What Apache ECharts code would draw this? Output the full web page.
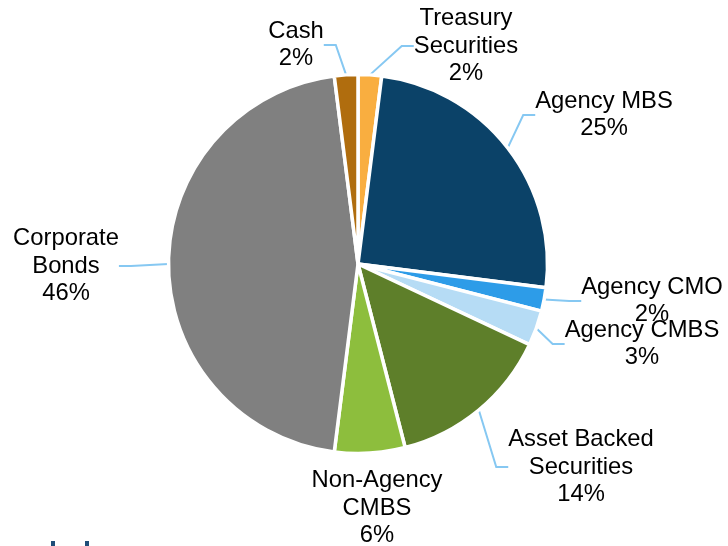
<!DOCTYPE html>
<html>
<head>
<meta charset="utf-8">
<style>
  html, body { margin: 0; padding: 0; background: #ffffff; }
  #chart { width: 728px; height: 546px; }
</style>
<script src="https://cdn.jsdelivr.net/npm/echarts@6/dist/echarts.min.js"></script>
</head>
<body>
<div id="chart"></div>
<script>
// Portfolio sector allocation (percent of holdings), clockwise from 12 o'clock
const sectors = [
  'Treasury Securities', 'Agency MBS', 'Agency CMO', 'Agency CMBS',
  'Asset Backed Securities', 'Non-Agency CMBS', 'Corporate Bonds', 'Cash'
];
const sectorLabels = [
  'Treasury\nSecurities', 'Agency MBS', 'Agency CMO', 'Agency CMBS',
  'Asset Backed\nSecurities', 'Non-Agency\nCMBS', 'Corporate\nBonds', 'Cash'
];
const weights = [2, 25, 2, 3, 14, 6, 46, 2];
const sectorColors = [
  '#F9AE40', '#0B4268', '#2D9CE8', '#B6DCF5',
  '#5E7F2A', '#8DBE3D', '#808080', '#B06D0E'
];
// Callouts whose leader line is drawn
const showLeader = [true, true, true, true, true, false, true, true];

// Where each callout's text block is centred
const calloutCenters = [
  [466, 46], [604, 115], [652, 301], [642, 344],
  [581, 467], [377, 508], [66, 266], [296, 45]
];

const chart = echarts.init(document.getElementById('chart'), null, { renderer: 'canvas' });

chart.setOption({
  backgroundColor: '#ffffff',
  animation: false,
  series: [{
    type: 'pie',
    center: [358, 264],
    radius: [0, 189.5],
    startAngle: 90,
    clockwise: true,
    avoidLabelOverlap: false,
    itemStyle: { borderColor: '#ffffff', borderWidth: 3.5 },
    label: {
      show: true,
      position: 'outside',
      fontFamily: 'Liberation Sans, Arial, sans-serif',
      fontSize: 23.8,
      lineHeight: 27.5,
      color: '#000000',
      align: 'center',
      formatter: p => sectorLabels[p.dataIndex] + '\n' + p.value + '%'
    },
    labelLine: {
      show: true,
      length: 12,
      length2: 12,
      lineStyle: { color: '#86C8F2', width: 2 }
    },
    labelLayout: p => ({
      x: calloutCenters[p.dataIndex][0],
      y: calloutCenters[p.dataIndex][1],
      align: 'center',
      verticalAlign: 'middle'
    }),
    data: sectors.map((name, i) => ({
      name: name,
      value: weights[i],
      itemStyle: { color: sectorColors[i] },
      labelLine: { show: showLeader[i] }
    }))
  }],
  graphic: [
    { type: 'rect', shape: { x: 51, y: 541, width: 4, height: 5 }, style: { fill: '#1F4E79' } },
    { type: 'rect', shape: { x: 85, y: 541, width: 4, height: 5 }, style: { fill: '#1F4E79' } }
  ]
});
</script>
</body>
</html>
